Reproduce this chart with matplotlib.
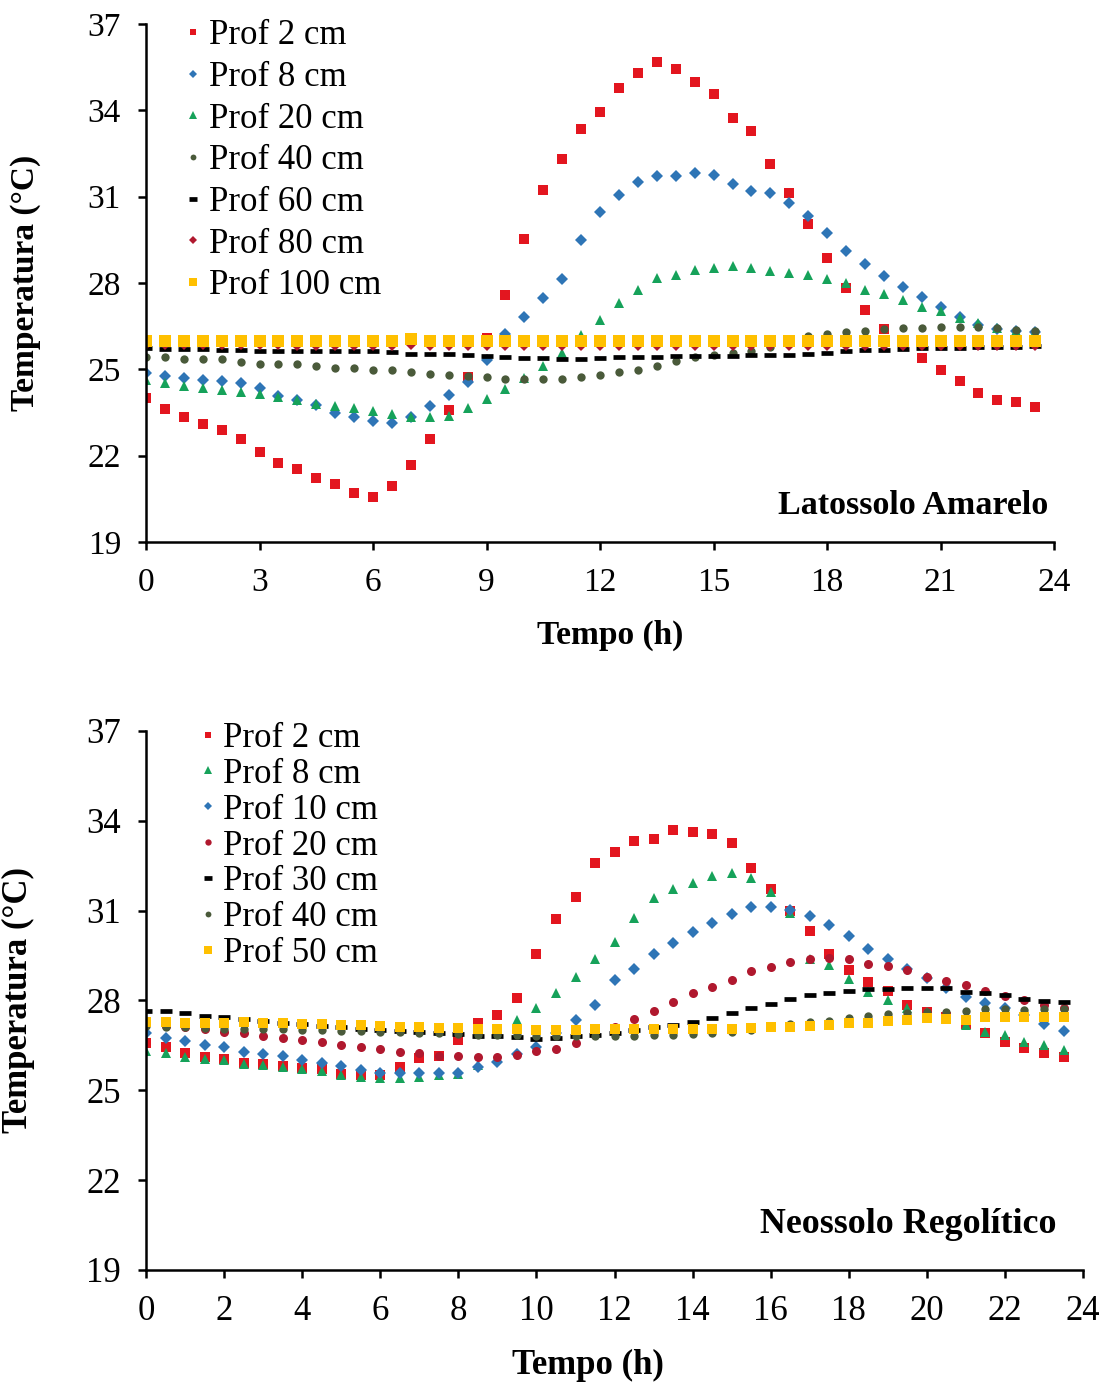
import numpy as np
import matplotlib
matplotlib.use("Agg")
import matplotlib.pyplot as plt

plt.rcParams['font.family'] = ['Liberation Serif', 'DejaVu Serif']

# horas de medição (cada 30 min)
horas = np.arange(0, 24, 0.5)

# ---- Latossolo Amarelo ----
lat_2 = [24.0, 23.62, 23.35, 23.1, 22.9, 22.58, 22.13, 21.75, 21.54, 21.23, 21.02, 20.7,
         20.57, 20.95, 21.68, 22.58, 23.59, 24.72, 26.1, 27.58, 29.53, 31.23, 32.31, 33.35,
         33.94, 34.78, 35.3, 35.68, 35.44, 34.98, 34.57, 33.73, 33.28, 32.14, 31.13, 30.05,
         28.87, 27.83, 27.06, 26.4, 25.8, 25.41, 24.98, 24.6, 24.17, 23.94, 23.86, 23.7]
lat_8 = [24.88, 24.77, 24.69, 24.63, 24.6, 24.52, 24.34, 24.09, 23.94, 23.76, 23.49, 23.36,
         23.22, 23.13, 23.35, 23.71, 24.1, 24.57, 25.33, 26.22, 26.81, 27.49, 28.15, 29.49,
         30.47, 31.06, 31.52, 31.72, 31.73, 31.81, 31.75, 31.44, 31.21, 31.14, 30.77, 30.33,
         29.73, 29.12, 28.66, 28.23, 27.86, 27.5, 27.16, 26.82, 26.55, 26.4, 26.33, 26.3]
lat_20 = [24.63, 24.52, 24.43, 24.34, 24.28, 24.2, 24.13, 24.05, 23.94, 23.8, 23.73, 23.65,
          23.57, 23.45, 23.36, 23.33, 23.38, 23.65, 23.96, 24.33, 24.7, 25.13, 25.56, 26.19,
          26.72, 27.3, 27.76, 28.16, 28.28, 28.45, 28.51, 28.59, 28.51, 28.42, 28.34, 28.28,
          28.14, 27.99, 27.75, 27.63, 27.41, 27.17, 27.02, 26.79, 26.6, 26.44, 26.35, 26.3]
lat_40 = [25.42, 25.42, 25.35, 25.35, 25.35, 25.27, 25.19, 25.19, 25.19, 25.12, 25.04, 25.04,
          24.98, 24.98, 24.9, 24.84, 24.8, 24.76, 24.74, 24.68, 24.66, 24.66, 24.67, 24.75,
          24.82, 24.9, 24.98, 25.12, 25.3, 25.42, 25.5, 25.56, 25.65, 25.78, 25.95, 26.16,
          26.23, 26.3, 26.34, 26.4, 26.42, 26.43, 26.48, 26.48, 26.47, 26.42, 26.38, 26.34]
lat_60 = [25.73, 25.72, 25.71, 25.7, 25.68, 25.67, 25.65, 25.65, 25.65, 25.65, 25.64, 25.64,
          25.63, 25.6, 25.55, 25.52, 25.52, 25.5, 25.45, 25.44, 25.41, 25.38, 25.37, 25.37,
          25.4, 25.42, 25.43, 25.44, 25.45, 25.46, 25.47, 25.48, 25.5, 25.5, 25.5, 25.52,
          25.58, 25.64, 25.66, 25.68, 25.7, 25.73, 25.74, 25.75, 25.76, 25.78, 25.79, 25.8]
lat_80 = [25.88, 25.88, 25.88, 25.88, 25.87, 25.87, 25.87, 25.87, 25.86, 25.86, 25.86, 25.86,
          25.86, 25.86, 25.88, 25.85, 25.84, 25.84, 25.84, 25.84, 25.83, 25.83, 25.83, 25.83,
          25.83, 25.83, 25.83, 25.83, 25.83, 25.83, 25.83, 25.83, 25.84, 25.84, 25.84, 25.84,
          25.85, 25.85, 25.85, 25.85, 25.85, 25.85, 25.85, 25.85, 25.85, 25.85, 25.85, 25.85]
lat_100 = [26.0, 26.0, 26.0, 26.0, 26.0, 25.99, 25.99, 25.99, 25.98, 25.98, 25.98, 25.98,
           25.98, 25.98, 26.05, 25.98, 25.98, 25.97, 25.97, 25.97, 25.97, 25.97, 25.97, 25.97,
           25.97, 25.97, 25.97, 25.97, 25.97, 25.97, 25.97, 25.97, 25.97, 25.97, 25.97, 25.97,
           25.97, 25.97, 25.97, 25.97, 25.97, 25.97, 25.97, 25.97, 25.97, 25.97, 25.97, 25.97]

# ---- Neossolo Regolítico ----
neo_2 = [26.57, 26.44, 26.25, 26.12, 26.05, 25.92, 25.88, 25.8, 25.75, 25.7, 25.55, 25.5,
         25.5, 25.77, 26.08, 26.15, 26.68, 27.26, 27.51, 28.09, 29.54, 30.72, 31.47, 32.58,
         32.97, 33.34, 33.39, 33.69, 33.64, 33.56, 33.27, 32.43, 31.71, 31.0, 30.33, 29.55,
         29.0, 28.63, 28.3, 27.85, 27.6, 27.45, 27.2, 26.9, 26.62, 26.4, 26.26, 26.12]
neo_8 = [26.3, 26.25, 26.12, 26.06, 26.0, 25.88, 25.85, 25.79, 25.72, 25.65, 25.51, 25.45,
         25.4, 25.42, 25.45, 25.5, 25.55, 25.85, 27.0, 27.35, 27.74, 28.26, 28.79, 29.37,
         29.96, 30.74, 31.41, 31.71, 31.93, 32.16, 32.27, 32.08, 31.63, 30.91, 29.37, 29.18,
         28.71, 28.29, 28.02, 27.74, 27.62, 27.5, 27.18, 26.96, 26.85, 26.62, 26.51, 26.35]
neo_10 = [26.9, 26.74, 26.66, 26.51, 26.44, 26.29, 26.21, 26.15, 26.0, 25.9, 25.81, 25.68,
          25.59, 25.57, 25.57, 25.59, 25.59, 25.77, 25.96, 26.2, 26.45, 26.9, 27.35, 27.85,
          28.68, 29.04, 29.55, 29.93, 30.3, 30.6, 30.89, 31.13, 31.13, 31.02, 30.82, 30.52,
          30.15, 29.71, 29.37, 29.05, 28.75, 28.4, 28.12, 27.93, 27.74, 27.5, 27.21, 26.99]
neo_20 = [27.2, 27.15, 27.1, 27.05, 26.96, 26.9, 26.81, 26.76, 26.68, 26.6, 26.51, 26.43,
          26.37, 26.29, 26.23, 26.15, 26.15, 26.12, 26.12, 26.18, 26.32, 26.37, 26.59, 26.85,
          27.1, 27.37, 27.66, 27.96, 28.26, 28.46, 28.68, 28.99, 29.13, 29.28, 29.37, 29.42,
          29.37, 29.22, 29.15, 29.02, 28.77, 28.65, 28.52, 28.3, 28.15, 28.0, 27.85, 27.75]
neo_30 = [27.66, 27.66, 27.57, 27.48, 27.44, 27.38, 27.3, 27.25, 27.2, 27.15, 27.1, 27.05,
          27.0, 26.98, 26.95, 26.9, 26.88, 26.82, 26.8, 26.78, 26.72, 26.75, 26.8, 26.85,
          26.92, 27.0, 27.1, 27.18, 27.29, 27.43, 27.59, 27.74, 27.88, 28.04, 28.18, 28.26,
          28.33, 28.37, 28.37, 28.4, 28.4, 28.4, 28.29, 28.26, 28.18, 28.04, 27.99, 27.96]
neo_40 = [27.15, 27.12, 27.1, 27.08, 27.06, 27.05, 27.04, 27.03, 27.0, 27.0, 26.98, 26.97,
          26.95, 26.93, 26.92, 26.9, 26.88, 26.86, 26.85, 26.83, 26.8, 26.8, 26.8, 26.8,
          26.82, 26.82, 26.84, 26.85, 26.87, 26.9, 26.95, 27.0, 27.1, 27.22, 27.28, 27.32,
          27.42, 27.48, 27.55, 27.57, 27.62, 27.6, 27.66, 27.7, 27.72, 27.68, 27.7, 27.72]
neo_50 = [27.29, 27.29, 27.26, 27.26, 27.26, 27.27, 27.25, 27.23, 27.22, 27.2, 27.18, 27.18,
          27.16, 27.12, 27.1, 27.07, 27.08, 27.06, 27.06, 27.03, 27.02, 27.02, 27.02, 27.03,
          27.03, 27.03, 27.03, 27.03, 27.04, 27.05, 27.06, 27.08, 27.1, 27.12, 27.14, 27.18,
          27.23, 27.25, 27.32, 27.35, 27.4, 27.38, 27.36, 27.45, 27.46, 27.46, 27.46, 27.46]

VERMELHO = '#E3161F'
AZUL = '#2E75B6'
VERDE = '#16A25A'
OLIVA = '#4A5A3A'
BORDO = '#B0182E'
AMARELO = '#FFC000'

# estilo de cada série: (dados, rótulo, marcador, cor, tamanho)
series_lat = [
    (lat_2, 'Prof 2 cm', 's', VERMELHO, 6.8),
    (lat_8, 'Prof 8 cm', 'D', AZUL, 6.3),
    (lat_20, 'Prof 20 cm', '^', VERDE, 7.5),
    (lat_40, 'Prof 40 cm', 'o', OLIVA, 6),
    (lat_60, 'Prof 60 cm', '_', 'black', 9),
    (lat_80, 'Prof 80 cm', 'D', BORDO, 6),
    (lat_100, 'Prof 100 cm', 's', AMARELO, 8.5),
]
series_neo = [
    (neo_2, 'Prof 2 cm', 's', VERMELHO, 6.8),
    (neo_8, 'Prof 8 cm', '^', VERDE, 7.5),
    (neo_10, 'Prof 10 cm', 'D', AZUL, 6.3),
    (neo_20, 'Prof 20 cm', 'o', BORDO, 6.5),
    (neo_30, 'Prof 30 cm', '_', 'black', 9),
    (neo_40, 'Prof 40 cm', 'o', OLIVA, 6),
    (neo_50, 'Prof 50 cm', 's', AMARELO, 7.5),
]


def desenha(ax, series, xticks, nome, nome_pos, nome_fs, fs, leg_pos, leg_space,
            xlab_pos, ylab_x):
    for dados, rotulo, marc, cor, tam in series:
        if marc == '_':
            ax.plot(horas, dados, linestyle='none', marker=marc, color=cor,
                    markersize=tam, markeredgewidth=3.4, label=rotulo)
        else:
            ax.plot(horas, dados, linestyle='none', marker=marc, color=cor,
                    markersize=tam, markeredgewidth=0, label=rotulo)
    ax.set_xlim(0, 24)
    ax.set_ylim(19, 37)
    ax.set_yticks([19, 22, 25, 28, 31, 34, 37])
    ax.set_xticks(xticks)
    for lado in ['top', 'right']:
        ax.spines[lado].set_visible(False)
    for lado in ['left', 'bottom']:
        ax.spines[lado].set_linewidth(1.8)
    ax.tick_params(axis='both', direction='out', length=6, width=1.8,
                   labelsize=fs, pad=12)
    ax.set_xlabel('Tempo (h)', fontsize=fs, fontweight='bold')
    ax.set_ylabel('Temperatura (°C)', fontsize=fs, fontweight='bold')
    ax.xaxis.set_label_coords(xlab_pos[0], xlab_pos[1])
    ax.yaxis.set_label_coords(ylab_x, 0.5)
    ax.text(nome_pos[0], nome_pos[1], nome, transform=ax.transAxes, ha='right',
            va='center', fontsize=nome_fs, fontweight='bold')
    ax.legend(loc='upper left', bbox_to_anchor=leg_pos, frameon=False,
              fontsize=25, markerscale=0.7, handlelength=0.6,
              handletextpad=0.15, labelspacing=leg_space, borderaxespad=0.0)


fig = plt.figure(figsize=(11.09, 13.87), dpi=100)
ax1 = fig.add_axes([0.1317, 0.6092, 0.8188, 0.3735])
ax2 = fig.add_axes([0.1317, 0.0844, 0.8449, 0.3886])

desenha(ax1, series_lat, [0, 3, 6, 9, 12, 15, 18, 21, 24], 'Latossolo Amarelo',
        (0.9934, 0.07), 24.5, 24, (0.025, 1.036), 0.25, (0.511, -0.15), -0.116)
desenha(ax2, series_neo, [0, 2, 4, 6, 8, 10, 12, 14, 16, 18, 20, 22, 24],
        'Neossolo Regolítico', (0.972, 0.085), 25.8, 25, (0.04, 1.043), 0.085,
        (0.472, -0.146), -0.118)

fig.savefig('out.png', dpi=100)
